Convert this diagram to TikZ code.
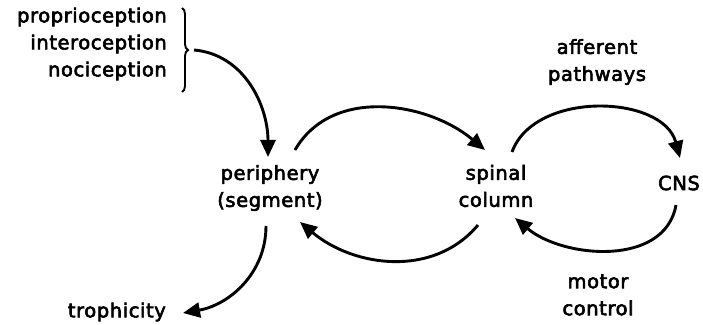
\documentclass[tikz,border=0pt]{standalone}
\usepackage{fontspec}
\setmainfont[LetterSpace=3,FakeBold=3]{DejaVu Sans}
\usetikzlibrary{arrows.meta,decorations.pathreplacing,calc}
\begin{document}
\begin{tikzpicture}[x=1pt,y=1pt,
  lbl/.style={font=\fontsize{19.5}{27}\selectfont, inner sep=0pt, align=center},
  flow/.style={line width=2.9pt, -{Triangle[length=17pt,width=15pt]}},
  bracket/.style={line width=1.9pt, decorate, decoration={brace, amplitude=6pt}}]
\useasboundingbox (0,0) rectangle (703,324);

% labels
\node[lbl, align=right, anchor=east] (sens) at (167,280) {proprioception\\interoception\\nociception};
\node[lbl] (per) at (270,136) {periphery\\(segment)};
\node[lbl] (spin) at (496,138) {spinal\\column};
\node[lbl] (cns) at (679,141) {CNS};
\node[lbl] (aff) at (597,262) {afferent\\pathways};
\node[lbl] (mot) at (598,29) {motor\\control};
\node[lbl, anchor=east] (tro) at (166,12) {trophicity};

% brace grouping the three senses
\coordinate (btop) at ($(sens.east)+(15,36)$);
\coordinate (bbot) at ($(sens.east)+(15,-48)$);
\draw[bracket] (btop) -- (bbot);
\coordinate (btip) at ($(sens.east)+(27,-6)$);

% connectors
\draw[flow] (btip) to[out=-5,in=90] ($(per)+(-2,31)$);
\draw[flow] ($(per)+(25,38)$) to[out=60,in=140] ($(spin)+(-11,36)$);
\draw[flow] ($(spin)+(-18,-39)$) to[out=-130,in=-40] ($(per)+(30,-34)$);
\draw[flow] ($(spin)+(16,34)$) to[out=70,in=105] ($(cns)+(1,25)$);
\draw[flow] ($(cns)+(-3,-22)$) to[out=-100,in=-40] ($(spin)+(19,-32)$);
\draw[flow] ($(per)+(-4,-38)$) to[out=-90,in=10] ($(tro.east)+(17,-1)$);
\end{tikzpicture}
\end{document}
